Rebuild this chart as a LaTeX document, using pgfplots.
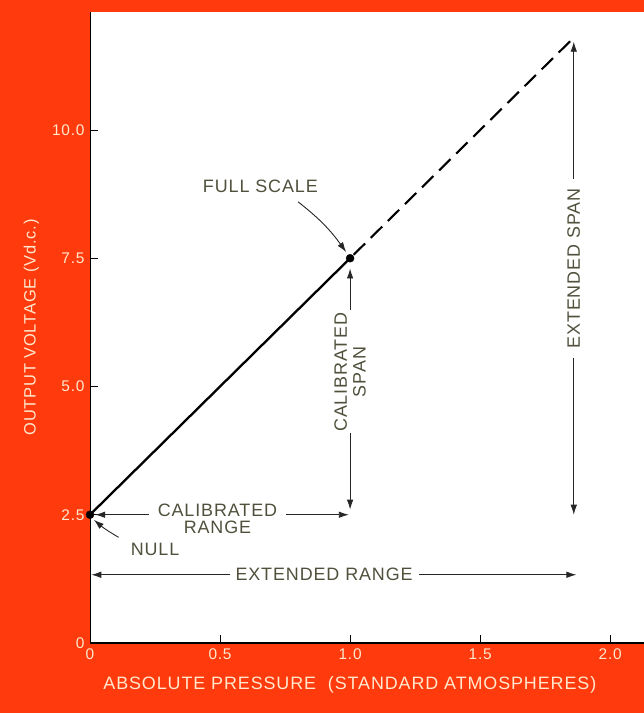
\documentclass[border=0pt]{standalone}
\usepackage{fontspec}
\setmainfont{Liberation Sans}[LetterSpace=5]
\usepackage{pgfplots}
\pgfplotsset{compat=1.18}
\usetikzlibrary{arrows.meta}
\definecolor{bgred}{RGB}{255,58,12}
\definecolor{cream}{RGB}{255,232,205}
\definecolor{ink}{RGB}{80,80,60}
\begin{document}
\begin{tikzpicture}[x=1bp,y=1bp]
\path[use as bounding box] (0,0) rectangle (644,713);
\fill[bgred] (0,0) rectangle (644,713);
\begin{axis}[
  at={(90bp,70bp)}, anchor=south west,
  scale only axis, width=554bp, height=631bp,
  xmin=0, xmax=2.13, ymin=0, ymax=12.3,
  axis x line=bottom, axis y line=left,
  axis line style={-, black},
  x axis line style={line width=1.4bp},
  y axis line style={line width=0.8bp},
  axis background/.style={fill=white},
  clip=false,
  tick align=inside,
  major tick length=8bp,
  tick style={black, line width=0.8bp},
  xtick={0,0.5,1,1.5,2},
  xticklabels={0,0.5,1.0,1.5,2.0},
  ytick={0,2.5,5,7.5,10},
  yticklabels={0,2.5,5.0,7.5,10.0},
  ticklabel style={font=\fontsize{15.5}{17}\selectfont, text=cream},
  xticklabel style={yshift=-2bp},
  yticklabel style={xshift=-2bp},
  xlabel={ABSOLUTE PRESSURE\ \ (STANDARD ATMOSPHERES)},
  xlabel style={at={(axis description cs:0.469,-0.0666)}, anchor=center, font=\fontsize{18}{20}\selectfont, text=cream},
  ylabel={OUTPUT VOLTAGE (Vd.c.)},
  ylabel style={at={(axis description cs:-0.106,0.5)}, anchor=center, font=\fontsize{16.5}{19}\selectfont, text=cream},
]
\addplot[black, line width=2.3bp] coordinates {(0,2.5) (1,7.5)};
\addplot[black, line width=2.1bp, dash pattern=on 16bp off 8bp, dash phase=-5bp] coordinates {(1,7.5) (1.85,11.75)};
\addplot[only marks, mark=*, mark size=4bp, black] coordinates {(0,2.5) (1,7.5)};

% annotations
\tikzset{ann/.style={draw=black!85, line width=0.9bp, -{Latex[length=10bp,width=6.5bp]}},
         lab/.style={text=ink, font=\fontsize{18}{20}\selectfont, align=center, inner sep=1bp}}
% full scale
\node[lab] at (axis cs:0.655,8.91) {FULL SCALE};
\draw[ann] (axis cs:0.80,8.6) to[bend left=8] (axis cs:0.985,7.62);
% null
\node[lab] at (axis cs:0.25,1.83) {NULL};
\draw[ann] (axis cs:0.11,2.06) to[bend left=5] (axis cs:0.015,2.4);
% calibrated range
\node[lab, font=\fontsize{18}{17.5}\selectfont] at (axis cs:0.49,2.42) {CALIBRATED\\RANGE};
\draw[ann] (axis cs:0.225,2.5) -- (axis cs:0.02,2.5);
\draw[ann] (axis cs:0.755,2.5) -- (axis cs:0.995,2.5);
% calibrated span
\node[lab, rotate=90, font=\fontsize{18}{19}\selectfont] at (axis cs:1.0,5.28) {CALIBRATED\\SPAN};
\draw[ann] (axis cs:1.0,6.5) -- (axis cs:1.0,7.3);
\draw[ann] (axis cs:1.0,4.1) -- (axis cs:1.0,2.6);
% extended range
\node[lab] at (axis cs:0.9,1.33) {EXTENDED RANGE};
\draw[ann] (axis cs:0.54,1.33) -- (axis cs:0.005,1.33);
\draw[ann] (axis cs:1.265,1.33) -- (axis cs:1.87,1.33);
% extended span
\node[lab, rotate=90] at (axis cs:1.86,7.3) {EXTENDED SPAN};
\draw[ann] (axis cs:1.86,9.05) -- (axis cs:1.86,11.72);
\draw[ann] (axis cs:1.86,5.55) -- (axis cs:1.86,2.5);
\end{axis}
\end{tikzpicture}
\end{document}
